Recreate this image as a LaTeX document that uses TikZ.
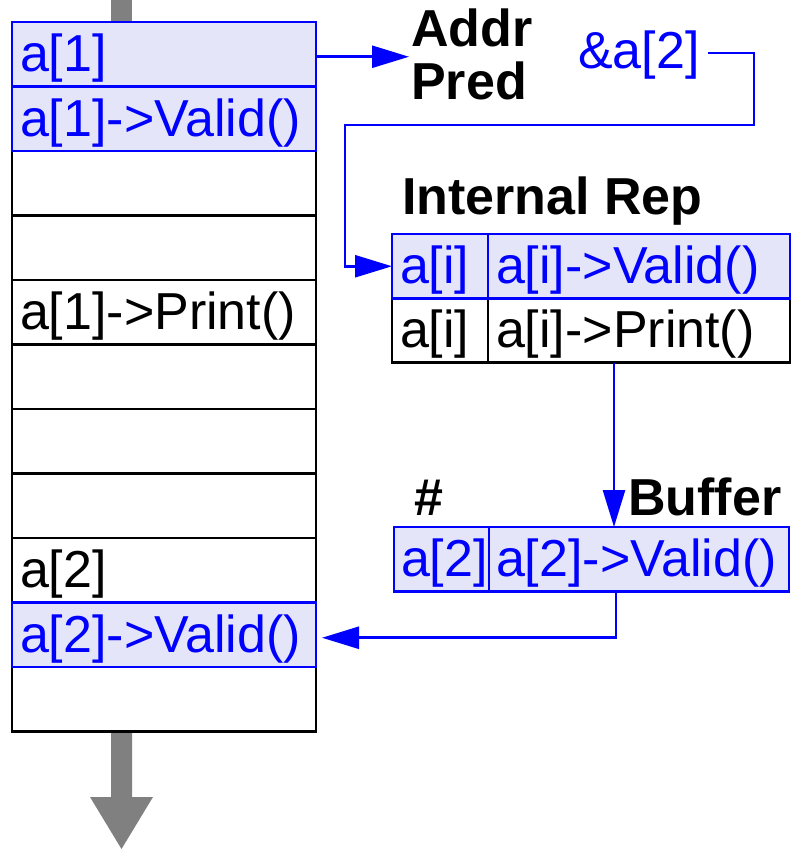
\documentclass[tikz,border=0pt]{standalone}
\usepackage{fontspec}
\setmainfont{Liberation Sans}
\usetikzlibrary{arrows.meta}
\definecolor{vblue}{RGB}{0,0,255}
\definecolor{lav}{RGB}{229,229,250}
\definecolor{flowgray}{RGB}{128,128,128}
\newcommand{\bigtext}{\fontsize{52}{60}\selectfont}
\begin{document}
\begin{tikzpicture}[x=1pt,y=-1pt,
  cell/.style={draw=black, line width=2.6pt, minimum height=64.5pt,
    inner xsep=8pt, inner ysep=0pt, outer sep=0pt,
    text height=45pt, text depth=10pt, align=left,
    anchor=north west, font=\bigtext},
  hot/.style={cell, draw=vblue, fill=lav, text=vblue},
  lab/.style={inner sep=0pt, anchor=base west, font=\bigtext\bfseries},
  bluetxt/.style={inner sep=0pt, anchor=base west, font=\bigtext, text=vblue},
  link/.style={draw=vblue, line width=2.6pt, -{Triangle[length=37pt,width=22pt]}},
  flow/.style={fill=flowgray}]
\useasboundingbox (0,0) rectangle (791,849);

% program-order stream: entry stub and exit arrow
\fill[flow] (111,0) rectangle (132,22);
\fill[flow] (111,731.5) -- (111,797) -- (90,797) -- (121.5,849)
  -- (153,797) -- (132,797) -- (132,731.5) -- cycle;

% instruction stream (plain slots first, highlighted ones on top)
\node[cell, text width=288pt] (s2)  at (12,151)   {};
\node[cell, text width=288pt] (s3)  at (12,215.5) {};
\node[cell, text width=288pt] (s4)  at (12,280)   {a[1]->Print()};
\node[cell, text width=288pt] (s5)  at (12,344.5) {};
\node[cell, text width=288pt] (s6)  at (12,409)   {};
\node[cell, text width=288pt] (s7)  at (12,473.5) {};
\node[cell, text width=288pt] (s8)  at (12,538)   {a[2]};
\node[cell, text width=288pt] (s10) at (12,667)   {};
\node[hot, text width=288pt] (s0) at (12,22)    {a[1]};
\node[hot, text width=288pt] (s1) at (12,86.5)  {a[1]->Valid()};
\node[hot, text width=288pt] (s9) at (12,602.5) {a[2]->Valid()};

% address predictor
\node[lab] (addr) at (411,46) {Addr};
\node[lab] (pred) at (411,99) {Pred};
\node[bluetxt] (amp) at (578,68) {\&a[2]};

% internal representation table
\node[lab] (irep) at (402,214) {Internal Rep};
\node[cell, text width=80pt] (r2a) at (392,298) {a[i]};
\node[cell, text width=286pt] (r2b) at (r2a.north east) {a[i]->Print()};
\node[hot, text width=80pt] (r1a) at (392,234) {a[i]};
\node[hot, text width=286pt] (r1b) at (r1a.north east) {a[i]->Valid()};

% buffer
\node[lab] (hash) at (414,515) {\#};
\node[lab] (buf) at (628,515) {Buffer};
\node[hot, text width=81pt, inner xsep=7pt] (b1) at (394,527) {a[2]};
\node[hot, text width=286pt, inner xsep=7pt] (b2) at (b1.north east) {a[2]->Valid()};

% connectors
\draw[link, shorten >=2pt] ([yshift=-2.5pt]s0.east) -- ([yshift=-2.5pt]s0.east -| addr.west);
\draw[link] ([xshift=8pt,yshift=1.5pt]amp.east) -| (754,125) -- (345,125)
  |- (r1a.west);
\draw[link] ([xshift=-25pt]r2b.south) -- ([xshift=-25pt]r2b.south |- b2.north);
\draw[link] ([xshift=-23pt]b2.south) |- ([xshift=6pt,yshift=-3pt]s9.east);
\end{tikzpicture}
\end{document}
